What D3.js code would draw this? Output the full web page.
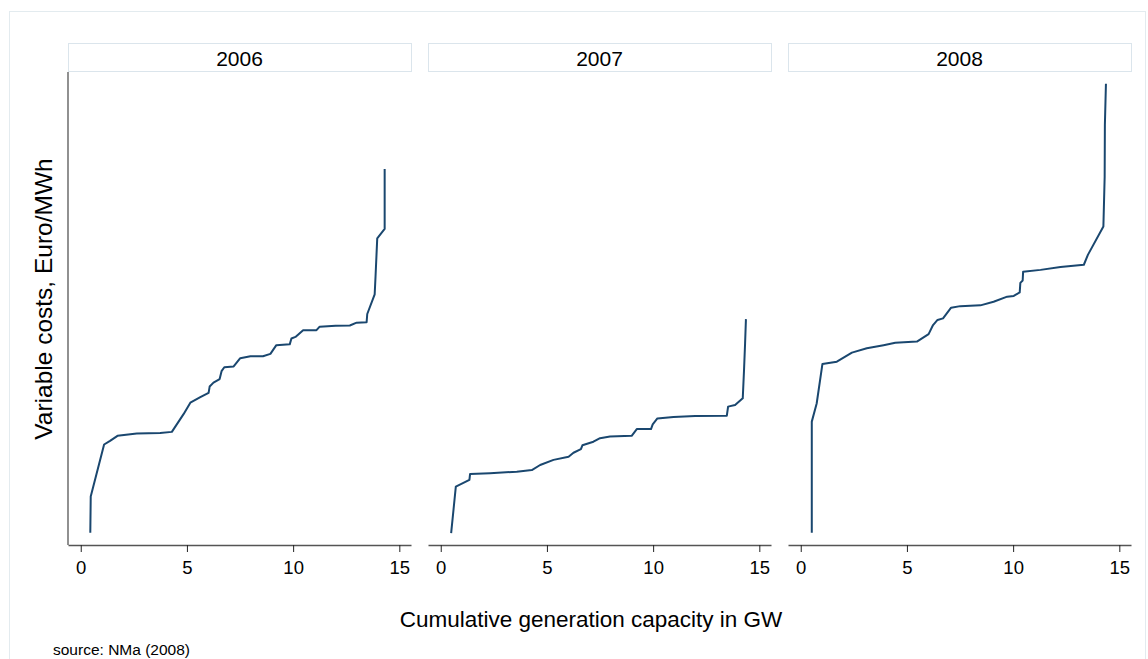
<!DOCTYPE html>
<html>
<head>
<meta charset="utf-8">
<script src="https://cdn.jsdelivr.net/npm/d3@7"></script>
<style>
  body { margin: 0; background: #ffffff; }
  text { font-family: Arial, "Liberation Sans", sans-serif; fill: #000; }
</style>
</head>
<body>
<div id="chart"></div>
<script>

// Panels (one per year) and x axis ticks.
var years = ["2006", "2007", "2008"];
var xTicks = [0, 5, 10, 15];

// Merit order curves: cumulative capacity (GW) and variable cost (Euro/MWh).
var cap2006 = [0.45, 0.47, 1.10, 1.38, 1.73, 2.64, 3.74, 4.29, 4.84, 5.16, 5.63, 6.02, 6.07, 6.25, 6.54, 6.63, 6.76, 7.20, 7.51, 7.99, 8.58, 8.93, 9.21, 9.84, 9.92, 10.11, 10.47, 11.10, 11.25, 12.00, 12.67, 12.99, 13.46, 13.49, 13.84, 13.88, 13.96, 14.31, 14.31];
var cost2006 = [3.1, 12.3, 25.5, 26.4, 27.7, 28.3, 28.4, 28.7, 33.2, 36.1, 37.5, 38.6, 40.2, 41.2, 42.1, 44.1, 45.1, 45.3, 47.4, 47.9, 47.9, 48.5, 50.7, 50.9, 52.4, 52.8, 54.5, 54.5, 55.4, 55.6, 55.7, 56.4, 56.5, 58.6, 63.6, 68.1, 77.8, 80.2, 95.4];

var cap2007 = [0.49, 0.71, 1.35, 1.38, 2.32, 3.58, 4.29, 4.68, 5.31, 6.02, 6.25, 6.60, 6.67, 7.19, 7.50, 7.97, 8.99, 9.23, 9.90, 9.98, 10.20, 10.96, 11.98, 13.47, 13.53, 13.86, 14.22, 14.28, 14.33, 14.37];
var cost2007 = [3.0, 14.8, 16.5, 18.0, 18.2, 18.6, 19.0, 20.3, 21.6, 22.4, 23.4, 24.3, 25.3, 26.2, 27.1, 27.5, 27.7, 29.4, 29.4, 30.6, 32.1, 32.5, 32.7, 32.8, 35.1, 35.5, 37.2, 44.4, 51.2, 57.3];

var cap2008 = [0.52, 0.52, 0.75, 1.02, 1.70, 2.41, 3.11, 3.90, 4.45, 5.47, 6.02, 6.23, 6.44, 6.70, 7.08, 7.51, 8.46, 9.08, 9.72, 10.03, 10.31, 10.34, 10.45, 10.47, 11.29, 12.23, 13.33, 13.52, 14.25, 14.31, 14.32, 14.37];
var cost2008 = [3.1, 31.3, 35.9, 45.9, 46.5, 48.8, 49.9, 50.7, 51.3, 51.6, 53.5, 55.8, 57.1, 57.5, 60.2, 60.6, 60.8, 61.7, 63.0, 63.2, 64.1, 66.5, 67.1, 69.3, 69.8, 70.5, 71.1, 73.6, 80.8, 93.4, 106.6, 117.0];

var capacity = [cap2006, cap2007, cap2008];
var costs = [cost2006, cost2007, cost2008];

// Page size and panel layout.
var width = 1148, height = 659;
var panel = {left: 68, top: 72, width: 343, height: 473, gap: 17, header: 28};

var svg = d3.select("#chart")
  .append("svg")
  .attr("width", width)
  .attr("height", height);

// Light outer frame of the graph region.
svg.append("rect")
  .attr("x", 9.5)
  .attr("y", 11.5)
  .attr("width", 1136)
  .attr("height", 660)
  .attr("fill", "none")
  .attr("stroke", "#e3ebef");

// Shared scales.
var x = d3.scaleLinear()
  .domain([-0.6, 15.55])
  .range([0, panel.width]);

var y = d3.scaleLinear()
  .domain([0, 120])
  .range([panel.height, 0]);

var line = d3.line()
  .x(function(d) { return x(d[0]); })
  .y(function(d) { return y(d[1]); });

years.forEach(function(year, i) {

  var g = svg.append("g")
    .attr("transform",
      "translate(" + (panel.left + i * (panel.width + panel.gap)) + "," + panel.top + ")");

  // Header strip with the year.
  g.append("rect")
    .attr("x", 0.5)
    .attr("y", -panel.header - 0.5)
    .attr("width", panel.width)
    .attr("height", panel.header)
    .attr("fill", "#ffffff")
    .attr("stroke", "#dbe5ec");

  g.append("text")
    .attr("x", panel.width / 2)
    .attr("y", -panel.header / 2)
    .attr("dy", "0.36em")
    .style("text-anchor", "middle")
    .style("font-size", "21px")
    .text(year);

  // X axis.
  var xAxis = g.append("g")
    .attr("transform", "translate(0," + panel.height + ")")
    .call(d3.axisBottom(x).tickValues(xTicks).tickSize(7).tickPadding(9).tickSizeOuter(0));

  xAxis.select(".domain").attr("stroke", "#555").attr("stroke-width", 1.3);
  xAxis.selectAll(".tick line").attr("stroke", "#222");
  xAxis.selectAll("text")
    .style("font-size", "18.5px")
    .style("font-family", "Arial, 'Liberation Sans', sans-serif")
    .attr("fill", "#000");

  // Y axis line only on the first panel, no ticks.
  if (i === 0) {
    g.append("line")
      .attr("x1", 0).attr("x2", 0)
      .attr("y1", 0).attr("y2", panel.height)
      .attr("stroke", "#555")
      .attr("stroke-width", 1.3);
  }

  // Merit order curve.
  var pts = d3.zip(capacity[i], costs[i]);
  g.append("path")
    .datum(pts)
    .attr("fill", "none")
    .attr("stroke", "#1a476f")
    .attr("stroke-width", 2)
    .attr("stroke-linejoin", "round")
    .attr("d", line);
});

// Axis titles and note.
svg.append("text")
  .attr("x", 591)
  .attr("y", 627)
  .style("text-anchor", "middle")
  .style("font-size", "22.5px")
  .text("Cumulative generation capacity in GW");

svg.append("text")
  .attr("transform", "translate(52," + 299 + ") rotate(-90)")
  .style("text-anchor", "middle")
  .style("font-size", "24.5px")
  .text("Variable costs, Euro/MWh");

svg.append("text")
  .attr("x", 53)
  .attr("y", 655)
  .style("font-size", "15.5px")
  .text("source: NMa (2008)");

</script>
</body>
</html>
